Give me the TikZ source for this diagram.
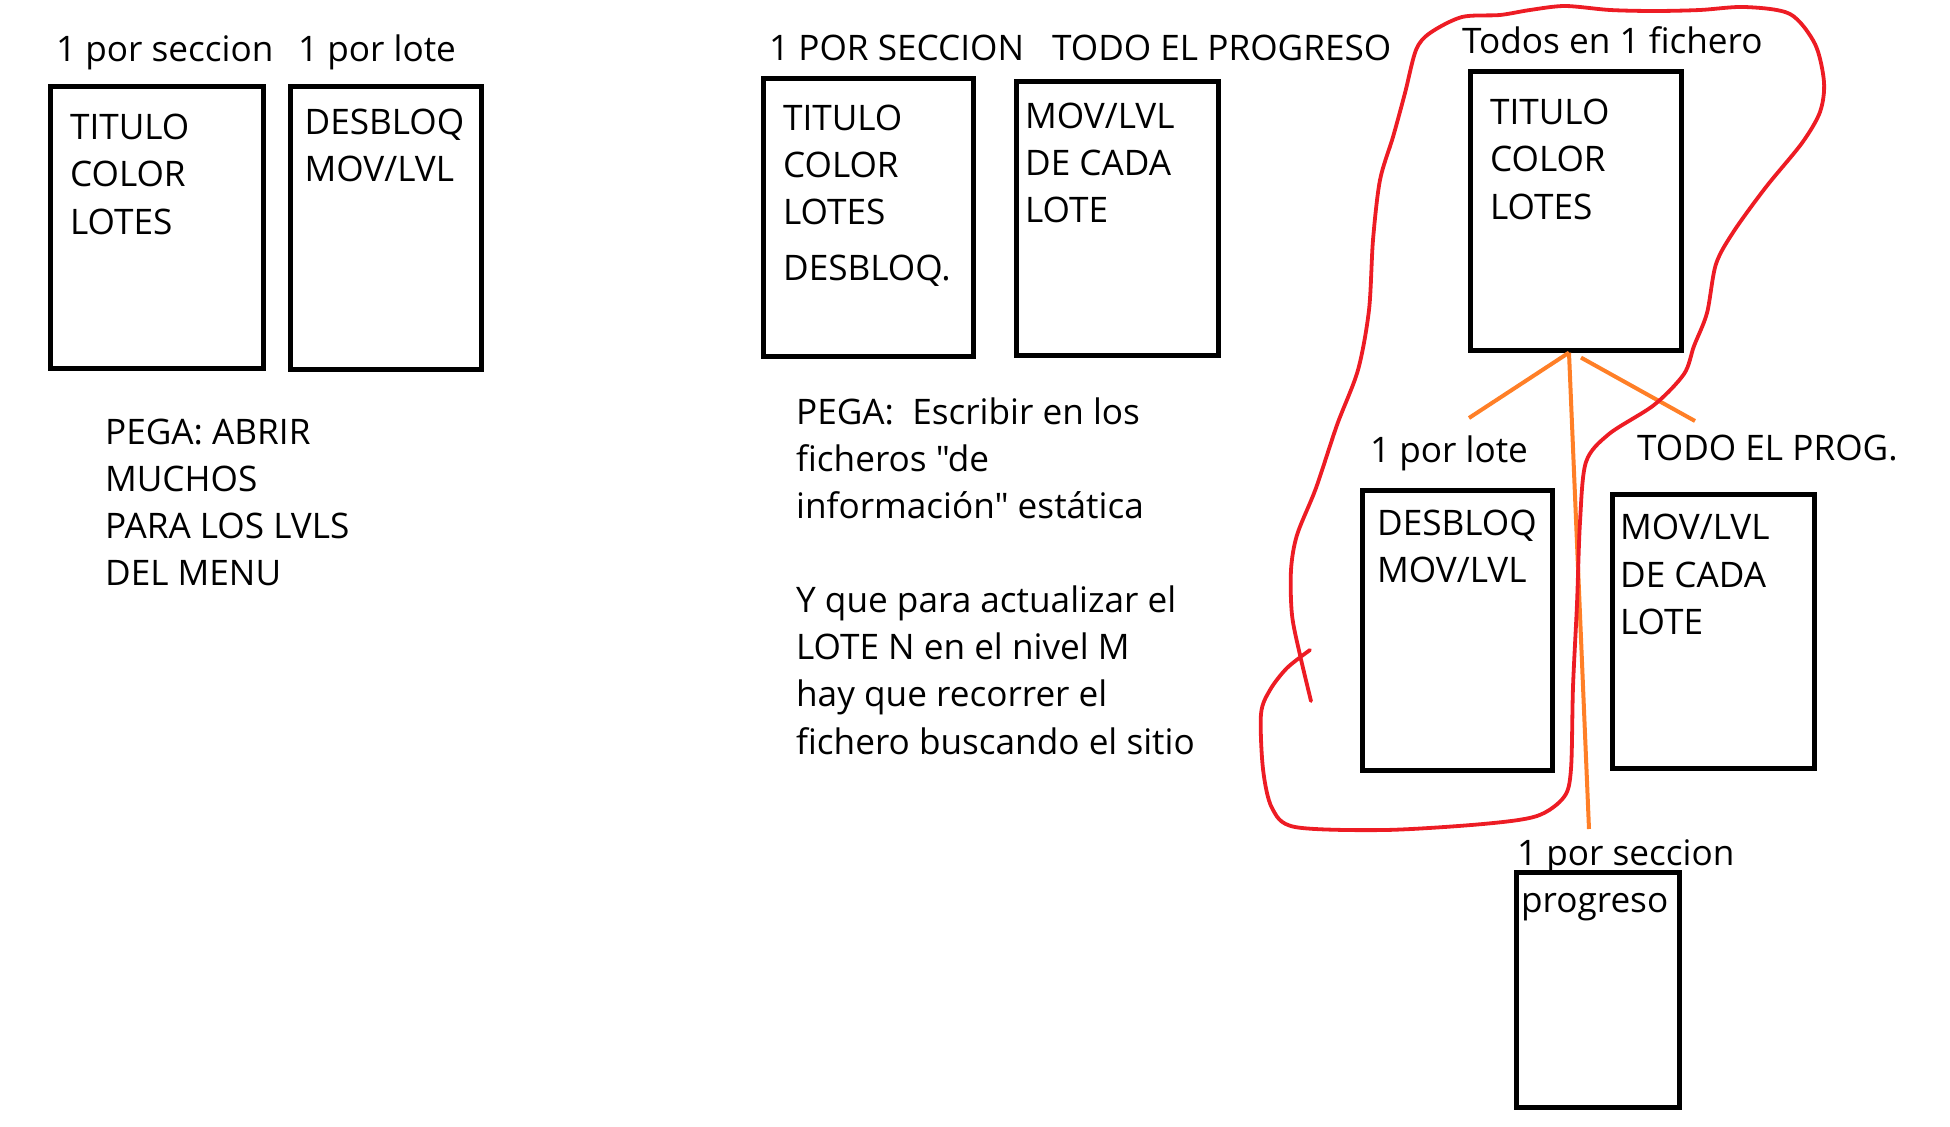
\documentclass[tikz,border=0pt]{standalone}
\usepackage{fontspec}
\setmainfont{Open Sans}[Ligatures=TeXOff]
\usepackage{xcolor}
\usetikzlibrary{positioning, calc}
\definecolor{paintred}{HTML}{ED1C24}
\definecolor{paintorange}{HTML}{FF7F27}

\begin{document}
\begin{tikzpicture}[
    x=0.01cm, y=-0.01cm,
    font=\fontsize{10}{13.4}\selectfont,
    fichero/.style={rectangle, draw=black, line width=0.05cm, inner sep=0pt},
    texto/.style={anchor=base west, align=left, inner sep=0pt},
    etiqueta/.style={anchor=base west, inner sep=0pt},
    enlace/.style={draw=paintorange, line width=0.04cm},
    lazo/.style={draw=paintred, line width=0.038cm, line join=round, line cap=round}
]
\useasboundingbox (0,0) rectangle (1950,1127);

% Opcion 1: un fichero por seccion y uno por lote
% (texto: base west = linea de base de la ultima linea)
\node[fichero, minimum width=2.12cm, minimum height=2.81cm] (secA) at (157,227.5) {};
\node[fichero, minimum width=1.90cm, minimum height=2.82cm] (loteA) at (386,228) {};
\node[texto] (secAtxt) at ([shift={(21,149.6)}]secA.north west) {TITULO\\COLOR\\LOTES};
\node[texto] (loteAtxt) at ([shift={(15.5,96.8)}]loteA.north west) {DESBLOQ\\MOV/LVL};
\node[etiqueta] (secAlbl) at ([shift={(7,-22.5)}]secA.north west) {1 por seccion};
\node[etiqueta] (loteAlbl) at ([shift={(9,-22.5)}]loteA.north west) {1 por lote};
\node[texto] (pegaA) at ([shift={(56,215)}]secA.south west) {PEGA: ABRIR\\MUCHOS\\PARA LOS LVLS\\DEL MENU};

% Opcion 2: uno por seccion y todo el progreso junto
\node[fichero, minimum width=2.09cm, minimum height=2.77cm] (secB) at (868.5,217.5) {};
\node[fichero, minimum width=2.01cm, minimum height=2.73cm] (progB) at (1117.5,218.5) {};
\node[texto] (secBtxt) at ([shift={(21,204.3)}]secB.north west) {TITULO\\COLOR\\LOTES\\[2.5pt]DESBLOQ.};
\node[texto] (progBtxt) at ([shift={(10,143.1)}]progB.north west) {MOV/LVL\\DE CADA\\LOTE};
\node[etiqueta] (secBlbl) at ([shift={(7,-15.5)}]secB.north west) {1 POR SECCION};
\node[etiqueta] (progBlbl) at ([shift={(37,-18.5)}]progB.north west) {TODO EL PROGRESO};
\node[texto] (pegaB) at ([shift={(34,395.5)}]secB.south west) {PEGA:\ \ Escribir en los\\ficheros "de\\información" estática\\[13.4pt]Y que para actualizar el\\LOTE N en el nivel M\\hay que recorrer el\\fichero buscando el sitio};

% Opcion 3: todos en 1 fichero
\node[fichero, minimum width=2.10cm, minimum height=2.78cm] (todos) at (1576,211) {};
\node[fichero, minimum width=1.89cm, minimum height=2.79cm] (loteC) at (1457.5,630.5) {};
\node[fichero, minimum width=2.01cm, minimum height=2.73cm] (progC) at (1713.5,631.5) {};
\node[fichero, minimum width=1.62cm, minimum height=2.34cm] (secC) at (1598,990) {};
\node[texto] (todostxt) at ([shift={(21,149.6)}]todos.north west) {TITULO\\COLOR\\LOTES};
\node[texto] (loteCtxt) at ([shift={(16,94.5)}]loteC.north west) {DESBLOQ\\MOV/LVL};
\node[texto] (progCtxt) at ([shift={(9,141.8)}]progC.north west) {MOV/LVL\\DE CADA\\LOTE};
\node[texto] (secCtxt) at ([shift={(6,42.5)}]secC.north west) {progreso};
\node[etiqueta] (todoslbl) at ([shift={(-7,-15.5)}]todos.north west) {Todos en 1 fichero};
\node[etiqueta] (loteClbl) at ([shift={(9,-26)}]loteC.north west) {1 por lote};
\node[etiqueta] (progClbl) at ([shift={(26,-32)}]progC.north west) {TODO EL PROG.};
\node[etiqueta] (secClbl) at ([shift={(2,-5)}]secC.north west) {1 por seccion};

% Lineas naranjas
\coordinate (finLote) at (1469,418);
\coordinate (finProg) at (1695,421);
\coordinate (finSec) at (1589,829);
\draw[enlace] ([shift={(-7,0)}]todos.south) -- (finLote);
\draw[enlace] ([shift={(5,5)}]todos.south) -- (finProg);
\draw[enlace] ([shift={(-7,0)}]todos.south) -- (finSec);

% Lazo rojo
\draw[lazo] plot[smooth, tension=0.5] coordinates {
    (1311,701) (1300,655) (1292,615) (1291,570) (1297,535) (1316,488)
    (1337,425) (1358,370) (1369,310) (1373,240) (1380,180) (1393,137)
    (1405,93) (1416,50) (1430,33) (1462,17) (1500,15) (1530,10) (1565,6)
    (1610,10) (1655,11) (1700,10) (1745,7) (1790,14) (1815,44) (1824,82)
    (1820,112) (1802,143) (1766,187) (1734,231) (1716,264) (1707,313)
    (1694,346) (1684,374) (1654,405) (1609,434) (1586,462) (1580,522)
    (1577,604) (1573,687) (1571,769) (1564,797) (1537,816) (1483,824)
    (1385,830) (1295,827) (1272,808) (1263,769) (1261,714) (1270,690)
    (1287,668) (1310,650)};

\end{tikzpicture}
\end{document}
